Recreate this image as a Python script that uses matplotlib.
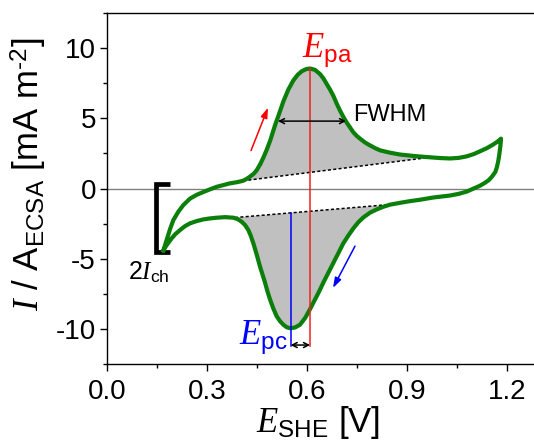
import numpy as np
import matplotlib.pyplot as plt
from matplotlib.ticker import MultipleLocator, FormatStrFormatter

plt.rcParams["font.family"] = ["Liberation Sans", "DejaVu Sans"]
plt.rcParams["mathtext.fontset"] = "custom"
plt.rcParams["mathtext.rm"] = "Liberation Sans"
plt.rcParams["mathtext.it"] = "Liberation Serif:italic"
plt.rcParams["mathtext.bf"] = "Liberation Sans:bold"
plt.rcParams["axes.unicode_minus"] = False

# forward (anodic) sweep
E_fwd = [0.169, 0.179, 0.189, 0.199, 0.214, 0.229, 0.249, 0.269, 0.290, 0.310,
         0.329, 0.350, 0.369, 0.390, 0.408, 0.420, 0.429, 0.440, 0.449, 0.460,
         0.469, 0.479, 0.490, 0.504, 0.516, 0.529, 0.544, 0.559, 0.572, 0.584,
         0.597, 0.609, 0.624, 0.639, 0.649, 0.659, 0.669, 0.679, 0.689, 0.699,
         0.709, 0.719, 0.729, 0.739, 0.749, 0.759, 0.774, 0.789, 0.804, 0.819,
         0.849, 0.879, 0.919, 0.959, 0.999, 1.029, 1.055, 1.079, 1.100, 1.119,
         1.140, 1.159, 1.172, 1.182]
I_fwd = [-4.42, -3.67, -2.90, -2.25, -1.65, -1.18, -0.72, -0.45, -0.24, -0.05,
         0.12, 0.25, 0.37, 0.45, 0.55, 0.70, 0.85, 1.05, 1.30, 1.75,
         2.20, 2.75, 3.45, 4.50, 5.30, 6.20, 7.05, 7.70, 8.10, 8.35,
         8.50, 8.55, 8.45, 8.15, 7.85, 7.45, 7.05, 6.60, 6.05, 5.55,
         5.10, 4.70, 4.35, 4.00, 3.75, 3.55, 3.28, 3.07, 2.88, 2.72,
         2.55, 2.42, 2.32, 2.24, 2.17, 2.14, 2.18, 2.29, 2.45, 2.65,
         2.88, 3.14, 3.35, 3.55]

# reverse (cathodic) sweep
E_rev = [1.182, 1.180, 1.177, 1.174, 1.170, 1.165, 1.155, 1.145, 1.132, 1.119,
         1.100, 1.079, 1.055, 1.029, 0.999, 0.979, 0.939, 0.909, 0.879, 0.849,
         0.829, 0.809, 0.789, 0.769, 0.754, 0.739, 0.724, 0.709, 0.694, 0.679,
         0.664, 0.649, 0.636, 0.624, 0.610, 0.595, 0.579, 0.564, 0.549, 0.539,
         0.529, 0.519, 0.509, 0.499, 0.489, 0.481, 0.474, 0.466, 0.459, 0.449,
         0.439, 0.431, 0.424, 0.414, 0.404, 0.392, 0.379, 0.355, 0.329, 0.309,
         0.289, 0.269, 0.249, 0.234, 0.219, 0.205, 0.194, 0.183, 0.174, 0.169]
I_rev = [3.55, 3.00, 2.45, 2.00, 1.55, 1.18, 0.85, 0.59, 0.38, 0.20,
         0.00, -0.22, -0.38, -0.50, -0.58, -0.64, -0.80, -0.90, -1.02, -1.15,
         -1.30, -1.49, -1.72, -2.06, -2.40, -2.84, -3.35, -3.90, -4.60, -5.30,
         -6.00, -6.70, -7.35, -7.90, -8.55, -9.20, -9.70, -9.90, -9.95, -9.88,
         -9.70, -9.45, -9.10, -8.55, -7.90, -7.30, -6.70, -6.10, -5.56, -4.70,
         -3.90, -3.35, -2.96, -2.60, -2.37, -2.18, -2.08, -2.04, -2.08, -2.13,
         -2.20, -2.32, -2.48, -2.68, -2.96, -3.25, -3.55, -3.90, -4.20, -4.42]

# baselines under the peaks
base_a_E = [0.408, 0.969]
base_a_I = [0.55, 2.22]
base_c_E = [0.384, 0.869]
base_c_I = [-2.07, -1.10]

E_pa, I_pa = 0.609, 8.55
E_pc = 0.551
I_bottom = -11.2
fwhm_E = [0.513, 0.717]
fwhm_I = 4.8
ich_E = [0.189, 0.146]
ich_I = [0.35, -4.55]

E_fwd, I_fwd = np.array(E_fwd), np.array(I_fwd)
E_rev, I_rev = np.array(E_rev), np.array(I_rev)

fig = plt.figure(figsize=(5.34, 4.41), dpi=100)
ax = fig.add_axes([0.2004, 0.1746, 0.8115, 0.7959])

ax.axhline(0, color="#808080", lw=1.0, zorder=1)

# shaded peak areas
m = (E_fwd > base_a_E[0]) & (E_fwd < base_a_E[1])
ax.fill(np.r_[base_a_E[0], E_fwd[m], base_a_E[1]],
        np.r_[base_a_I[0], I_fwd[m], base_a_I[1]],
        color="#c0c0c0", lw=0, zorder=2)
m = (E_rev > base_c_E[0]) & (E_rev < base_c_E[1])
ax.fill(np.r_[base_c_E[1], E_rev[m], base_c_E[0]],
        np.r_[base_c_I[1], I_rev[m], base_c_I[0]],
        color="#c0c0c0", lw=0, zorder=2)
ax.plot(base_a_E, base_a_I, color="black", lw=1.1, ls=(0, (2, 1.5)), zorder=3)
ax.plot(base_c_E, base_c_I, color="black", lw=1.1, ls=(0, (2, 1.5)), zorder=3)

ax.plot(np.r_[E_fwd, E_rev], np.r_[I_fwd, I_rev], color="#0a7f0a", lw=3.0,
        solid_joinstyle="round", zorder=4)

# peak positions
I_base_pc = np.interp(E_pc, base_c_E, base_c_I)
ax.plot([E_pa, E_pa], [I_pa, I_bottom], color="#f02020", lw=1.1, zorder=5)
ax.plot([E_pc, E_pc], [I_base_pc, I_bottom], color="#0000ff", lw=1.1, zorder=5)

arr = dict(arrowstyle="<->,head_length=0.35,head_width=0.18", color="black",
           lw=1.1, shrinkA=0, shrinkB=0)
ax.annotate("", xy=(fwhm_E[1], fwhm_I), xytext=(fwhm_E[0], fwhm_I), arrowprops=arr, zorder=6)
ax.annotate("", xy=(E_pa, -11.15), xytext=(E_pc, -11.15), arrowprops=arr, zorder=6)

ax.annotate("", xy=(0.483, 5.76), xytext=(0.432, 2.70),
            arrowprops=dict(arrowstyle="-|>,head_length=0.6,head_width=0.2",
                            color="red", lw=1.1, shrinkA=0, shrinkB=0))
ax.annotate("", xy=(0.678, -7.08), xytext=(0.744, -4.10),
            arrowprops=dict(arrowstyle="-|>,head_length=0.6,head_width=0.2",
                            color="#0000ff", lw=1.1, shrinkA=0, shrinkB=0))

# charging current bracket
ax.plot([ich_E[0], ich_E[1], ich_E[1], ich_E[0]],
        [ich_I[0], ich_I[0], ich_I[1], ich_I[1]],
        color="black", lw=3.4, solid_joinstyle="miter", solid_capstyle="butt")

ax.text(0.585, 9.3, r"$E_{\mathrm{pa}}$", color="#ff0000", fontsize=25,
        ha="left", va="baseline")
ax.text(0.543, -11.15, r"$E_{\mathrm{pc}}$", color="#0000ff", fontsize=25,
        ha="right", va="baseline")
ax.text(0.738, 4.8, "FWHM", fontsize=17, ha="left", va="baseline")
ax.text(0.064, -6.45, r"2$I_{\mathrm{ch}}$", fontsize=18, ha="left", va="baseline")

ax.set_xlim(0, 1.3)
ax.set_ylim(-12.5, 12.5)
ax.set_xticks([0.0, 0.3, 0.6, 0.9, 1.2])
ax.xaxis.set_major_formatter(FormatStrFormatter("%.1f"))
ax.xaxis.set_minor_locator(MultipleLocator(0.15))
ax.yaxis.set_major_locator(MultipleLocator(5))
ax.yaxis.set_minor_locator(MultipleLocator(2.5))
ax.tick_params(which="both", direction="out", width=1.0, labelsize=20, top=False, right=False)
ax.tick_params(axis="x", which="major", length=5, pad=5.5)
ax.tick_params(axis="y", which="major", length=5, pad=3)
ax.tick_params(which="minor", length=3)
for s in ax.spines.values():
    s.set_linewidth(1.0)
ax.spines["right"].set_visible(False)

ax.set_xlabel(r"$E_{\mathrm{SHE}}$ [V]", fontsize=25)
ax.set_ylabel(r"$I$ / $\mathrm{A}_{\mathrm{ECSA}}$ [mA m$^{\text{-2}}$]", fontsize=25)
ax.xaxis.set_label_coords(0.488, -0.115)
ax.yaxis.set_label_coords(-0.134, 0.541)

fig.savefig("out.png", dpi=100)
